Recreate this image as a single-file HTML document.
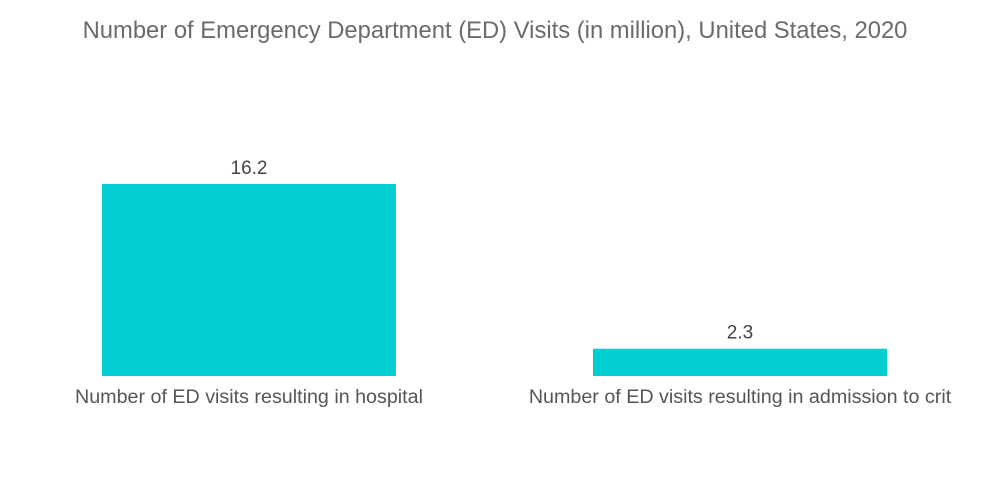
<!DOCTYPE html>
<html><head><meta charset="utf-8"><style>
body{margin:0;background:#fff;}
svg{display:block;font-family:"Liberation Sans",sans-serif;}
</style></head><body>
<svg id="chart" width="1000" height="504">
<text x="495" y="38" text-anchor="middle" font-size="23.8" fill="#6b6b6b">Number of Emergency Department (ED) Visits (in million), United States, 2020</text>
<g id="bars"></g>
</svg>
<script>
const categories=["Number of ED visits resulting in hospital","Number of ED visits resulting in admission to crit"];
const values=[16.2,2.3];
const valueLabels=["16.2","2.3"];
const base=376, pxPerUnit=192/16.2;
function y(v){return base-v*pxPerUnit;}
function bandX(i){return 102+i*491;}
const bw=294;
const g=document.getElementById('bars');
const ns="http://www.w3.org/2000/svg";
categories.forEach((c,i)=>{
 const r=document.createElementNS(ns,'rect');
 r.setAttribute('x',bandX(i));r.setAttribute('y',y(values[i]));
 r.setAttribute('width',bw);r.setAttribute('height',base-y(values[i]));
 r.setAttribute('fill','#00ced1');
 
 
 g.appendChild(r);
 const t=document.createElementNS(ns,'text');
 t.setAttribute('x',bandX(i)+bw/2);t.setAttribute('y',y(values[i])-10);
 t.setAttribute('text-anchor','middle');t.setAttribute('font-size','19');t.setAttribute('fill','#444');
 t.textContent=valueLabels[i];
 
 
 g.appendChild(t);
 const l=document.createElementNS(ns,'text');
 l.setAttribute('x',bandX(i)+bw/2);l.setAttribute('y',403);
 l.setAttribute('text-anchor','middle');l.setAttribute('font-size','19.7');l.setAttribute('fill','#555');
 l.textContent=c;
 
 
 g.appendChild(l);
});
</script>
</body></html>
